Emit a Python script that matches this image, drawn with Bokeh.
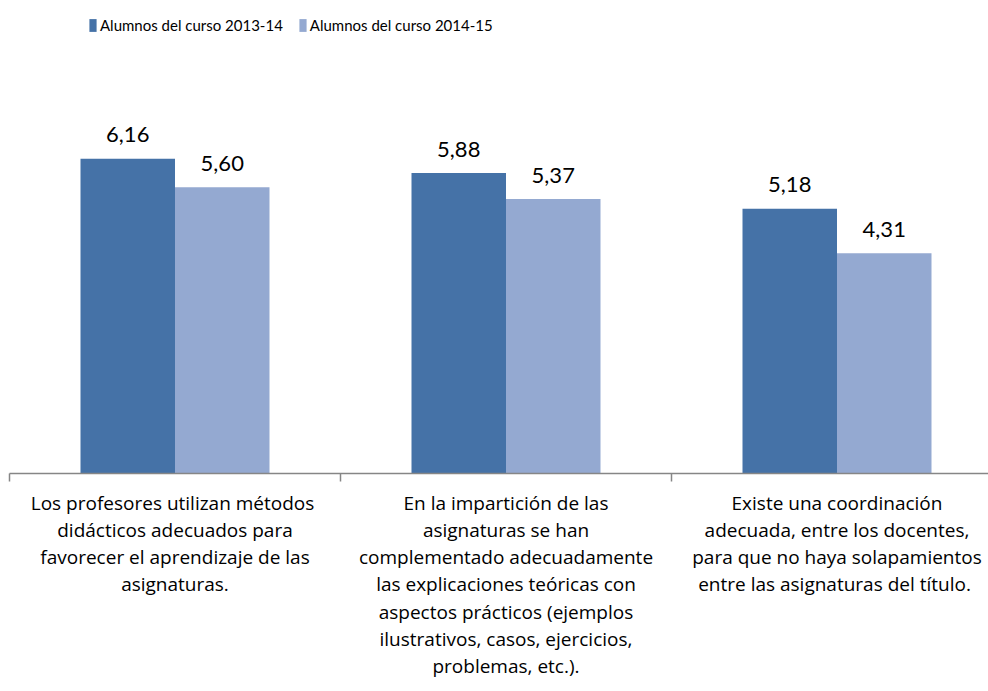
from bokeh.plotting import figure
from bokeh.models import Range1d, FixedTicker, Legend, LegendItem, ColumnDataSource
from bokeh.core.properties import value
from bokeh.embed import file_html
from bokeh.resources import INLINE

categories = [
    "Los profesores utilizan  métodos\ndidácticos adecuados para\nfavorecer el aprendizaje de las\nasignaturas.",
    "En la impartición de las\nasignaturas se han\ncomplementado adecuadamente\nlas explicaciones teóricas con\naspectos prácticos (ejemplos\nilustrativos, casos, ejercicios,\nproblemas, etc.).",
    "Existe una coordinación\nadecuada, entre los docentes,\npara que no haya solapamientos\nentre las asignaturas  del título.",
]
series_names = ["Alumnos del curso 2013-14", "Alumnos del curso 2014-15"]
values_2013_14 = [6.16, 5.88, 5.18]
values_2014_15 = [5.60, 5.37, 4.31]

DARK = "#4572A7"
LIGHT = "#94A9D1"
AXIS = "#868686"
BAR_W = 0.2855

centers = [i + 0.5 for i in range(len(categories))]
x1 = [c - BAR_W / 2 for c in centers]
x2 = [c + BAR_W / 2 for c in centers]

src1 = ColumnDataSource(dict(x=x1, top=values_2013_14,
                             lab=[f"{v:.2f}".replace(".", ",") for v in values_2013_14]))
src2 = ColumnDataSource(dict(x=x2, top=values_2014_15,
                             lab=[f"{v:.2f}".replace(".", ",") for v in values_2014_15]))

p = figure(frame_width=979, frame_height=465, output_backend="svg", toolbar_location=None,
           x_range=Range1d(0, 979 / 331), y_range=Range1d(0, 9.10),
           y_axis_location=None, min_border_left=9, min_border_right=0,
           min_border_top=8, min_border_bottom=0)
p.outline_line_color = None
p.xgrid.visible = False
p.ygrid.visible = False

r1 = p.vbar(x="x", top="top", width=BAR_W, bottom=0, source=src1,
            fill_color=DARK, line_color=None)
r2 = p.vbar(x="x", top="top", width=BAR_W, bottom=0, source=src2,
            fill_color=LIGHT, line_color=None)

for s in (src1, src2):
    p.text(x="x", y="top", text="lab", source=s, text_align="center",
           text_baseline="alphabetic", y_offset=-24,
           text_font=value("Lato"), text_font_size="22px", text_color="#000000")

ax = p.xaxis[0]
ax.ticker = FixedTicker(ticks=centers, minor_ticks=[0, 1, 2, 3])
ax.major_label_overrides = {c: lab for c, lab in zip(centers, categories)}
ax.axis_line_color = AXIS
ax.axis_line_width = 1.5
ax.major_tick_line_color = None
ax.major_tick_in = 0
ax.major_tick_out = 0
ax.minor_tick_line_color = AXIS
ax.minor_tick_line_width = 1.5
ax.minor_tick_in = 0
ax.minor_tick_out = 8
ax.major_label_standoff = 8
ax.major_label_text_font = "Open Sans"
ax.major_label_text_font_size = "19px"
ax.major_label_text_color = "#000000"
ax.major_label_text_line_height = 1.05
ax.major_label_orientation = "horizontal"

legend = Legend(items=[LegendItem(label=series_names[0], renderers=[r1]),
                       LegendItem(label=series_names[1], renderers=[r2])],
                orientation="horizontal", location=(79, 439),
                padding=0, margin=0, spacing=15, label_standoff=3,
                glyph_width=9, glyph_height=16, label_height=16,
                border_line_color=None, background_fill_alpha=0,
                label_text_font="Lato", label_text_font_size="15px",
                label_text_color="#000000")
p.add_layout(legend)

open("out.html", "w").write(file_html(p, INLINE))
